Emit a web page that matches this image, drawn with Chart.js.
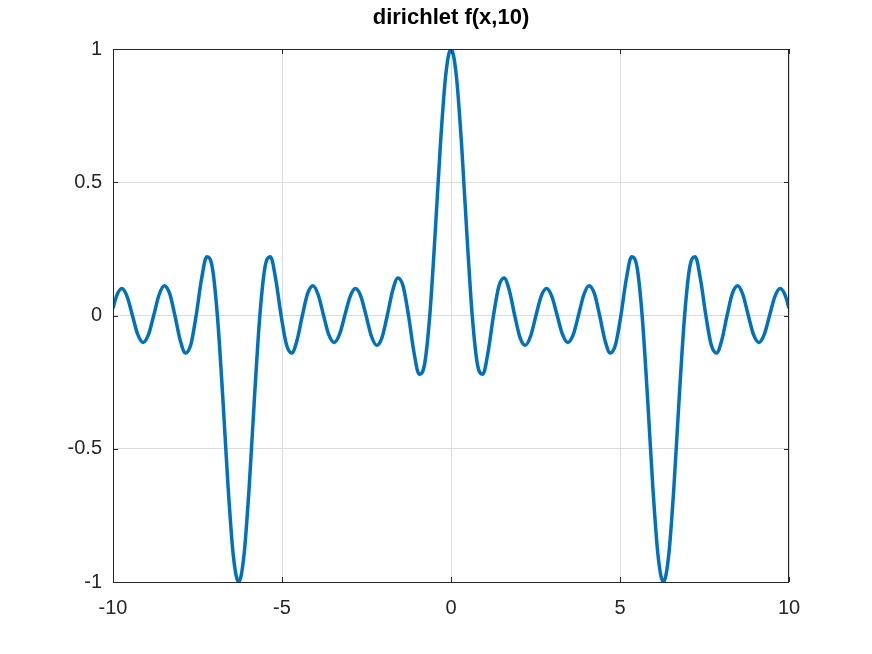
<!DOCTYPE html>
<html>
<head>
<meta charset="utf-8">
<script src="https://cdn.jsdelivr.net/npm/chart.js@4.4.0/dist/chart.umd.min.js"></script>
<style>
  body { margin: 0; background: #fff; }
  #wrap { width: 872px; height: 654px; }
</style>
</head>
<body>
<div id="wrap"><canvas id="myLineChart" width="872" height="654"></canvas></div>
<script>
// values
var xValues = [-10, -9.896, -9.739, -9.582, -9.425, -9.268, -9.111, -8.954, -8.796, -8.639,
    -8.482, -8.325, -8.168, -8.011, -7.854, -7.697, -7.540, -7.383, -7.226, -7.069,
    -6.912, -6.754, -6.597, -6.440, -6.283, -6.126, -5.969, -5.812, -5.655, -5.498,
    -5.341, -5.184, -5.027, -4.869, -4.712, -4.555, -4.398, -4.241, -4.084, -3.927,
    -3.770, -3.613, -3.456, -3.299, -3.142, -2.985, -2.827, -2.670, -2.513, -2.356,
    -2.199, -2.042, -1.885, -1.728, -1.571, -1.414, -1.257, -1.100, -0.942, -0.785,
    -0.628, -0.471, -0.314, -0.157,
    0, 0.157, 0.314, 0.471, 0.628, 0.785, 0.942, 1.100, 1.257, 1.414,
    1.571, 1.728, 1.885, 2.042, 2.199, 2.356, 2.513, 2.670, 2.827, 2.985,
    3.142, 3.299, 3.456, 3.613, 3.770, 3.927, 4.084, 4.241, 4.398, 4.555,
    4.712, 4.869, 5.027, 5.184, 5.341, 5.498, 5.655, 5.812, 5.969, 6.126,
    6.283, 6.440, 6.597, 6.754, 6.912, 7.069, 7.226, 7.383, 7.540, 7.697,
    7.854, 8.011, 8.168, 8.325, 8.482, 8.639, 8.796, 8.954, 9.111, 9.268,
    9.425, 9.582, 9.739, 9.896, 10];
var yValues = [0.027, 0.073, 0.101, 0.071, 0, -0.071, -0.101, -0.073, 0, 0.077,
    0.112, 0.083, 0, -0.093, -0.141, -0.109, 0, 0.135, 0.220, 0.185,
    0, -0.303, -0.639, -0.901, -1, -0.901, -0.639, -0.303, 0, 0.185,
    0.220, 0.135, 0, -0.109, -0.141, -0.093, 0, 0.083, 0.112, 0.077,
    0, -0.073, -0.101, -0.071, 0, 0.071, 0.101, 0.073, 0, -0.077,
    -0.112, -0.083, 0, 0.093, 0.141, 0.109, 0, -0.135, -0.220, -0.185,
    0, 0.303, 0.639, 0.901,
    1, 0.901, 0.639, 0.303, 0, -0.185, -0.220, -0.135, 0, 0.109,
    0.141, 0.093, 0, -0.083, -0.112, -0.077, 0, 0.073, 0.101, 0.071,
    0, -0.071, -0.101, -0.073, 0, 0.077, 0.112, 0.083, 0, -0.093,
    -0.141, -0.109, 0, 0.135, 0.220, 0.185, 0, -0.303, -0.639, -0.901,
    -1, -0.901, -0.639, -0.303, 0, 0.185, 0.220, 0.135, 0, -0.109,
    -0.141, -0.093, 0, 0.083, 0.112, 0.077, 0, -0.073, -0.101, -0.071,
    0, 0.071, 0.101, 0.073, 0.027];
var xTicks = [-10, -5, 0, 5, 10];
var yTicks = [-1, -0.5, 0, 0.5, 1];
var chartTitle = 'dirichlet f(x,10)';

var points = xValues.map(function (x, i) { return { x: x, y: yValues[i] }; });

// box around the plot, inward tick marks, title
var octaveBox = {
    id: 'octaveBox',
    afterDraw: function (chart) {
        var c = chart.ctx, a = chart.chartArea;
        var xs = chart.scales.x, ys = chart.scales.y;
        c.save();
        c.strokeStyle = '#262626';
        c.lineWidth = 1;
        c.strokeRect(a.left + 0.5, a.top + 0.5, a.right - a.left - 1, a.bottom - a.top);
        c.beginPath();
        xTicks.forEach(function (t) {
            var px = Math.round(xs.getPixelForValue(t)) + 0.5;
            c.moveTo(px, a.bottom); c.lineTo(px, a.bottom - 5);
            c.moveTo(px, a.top); c.lineTo(px, a.top + 5);
        });
        yTicks.forEach(function (t) {
            var py = Math.round(ys.getPixelForValue(t)) + 0.5;
            c.moveTo(a.left, py); c.lineTo(a.left + 5, py);
            c.moveTo(a.right, py); c.lineTo(a.right - 5, py);
        });
        c.stroke();
        c.fillStyle = '#000';
        c.font = 'bold 22px "Liberation Sans", Arial, sans-serif';
        c.textAlign = 'center';
        c.textBaseline = 'middle';
        c.fillText(chartTitle, (a.left + a.right) / 2, 18);
        c.restore();
    }
};

var tickFont = { family: '"Liberation Sans", Arial, sans-serif', size: 20 };

var ctx = document.getElementById('myLineChart').getContext('2d');
var myChart = new Chart(ctx, {
    type: 'line',
    data: {
        datasets: [{
            data: points,
            borderColor: '#0072BD',
            borderWidth: 3.5,
            pointRadius: 0,
            fill: false,
            cubicInterpolationMode: 'monotone'
        }]
    },
    options: {
        responsive: false,
        animation: false,
        layout: { padding: { left: 0, top: 49, right: 83, bottom: 0 } },
        plugins: { legend: { display: false }, title: { display: false }, tooltip: { enabled: false } },
        scales: {
            x: {
                type: 'linear',
                min: -10, max: 10,
                afterFit: function (s) { s.height = 72; },
                afterBuildTicks: function (s) { s.ticks = xTicks.map(function (v) { return { value: v }; }); },
                grid: { color: '#dcdcdc', drawTicks: false },
                border: { display: false },
                ticks: {
                    color: '#262626', padding: 14, font: tickFont,
                    callback: function (v) { return String(v); }
                }
            },
            y: {
                min: -1, max: 1,
                afterFit: function (s) { s.width = 113; },
                afterBuildTicks: function (s) { s.ticks = yTicks.map(function (v) { return { value: v }; }); },
                grid: { color: '#dcdcdc', drawTicks: false },
                border: { display: false },
                ticks: {
                    color: '#262626', padding: 11, font: tickFont,
                    callback: function (v) { return String(v); }
                }
            }
        }
    },
    plugins: [octaveBox]
});
</script>
</body>
</html>
